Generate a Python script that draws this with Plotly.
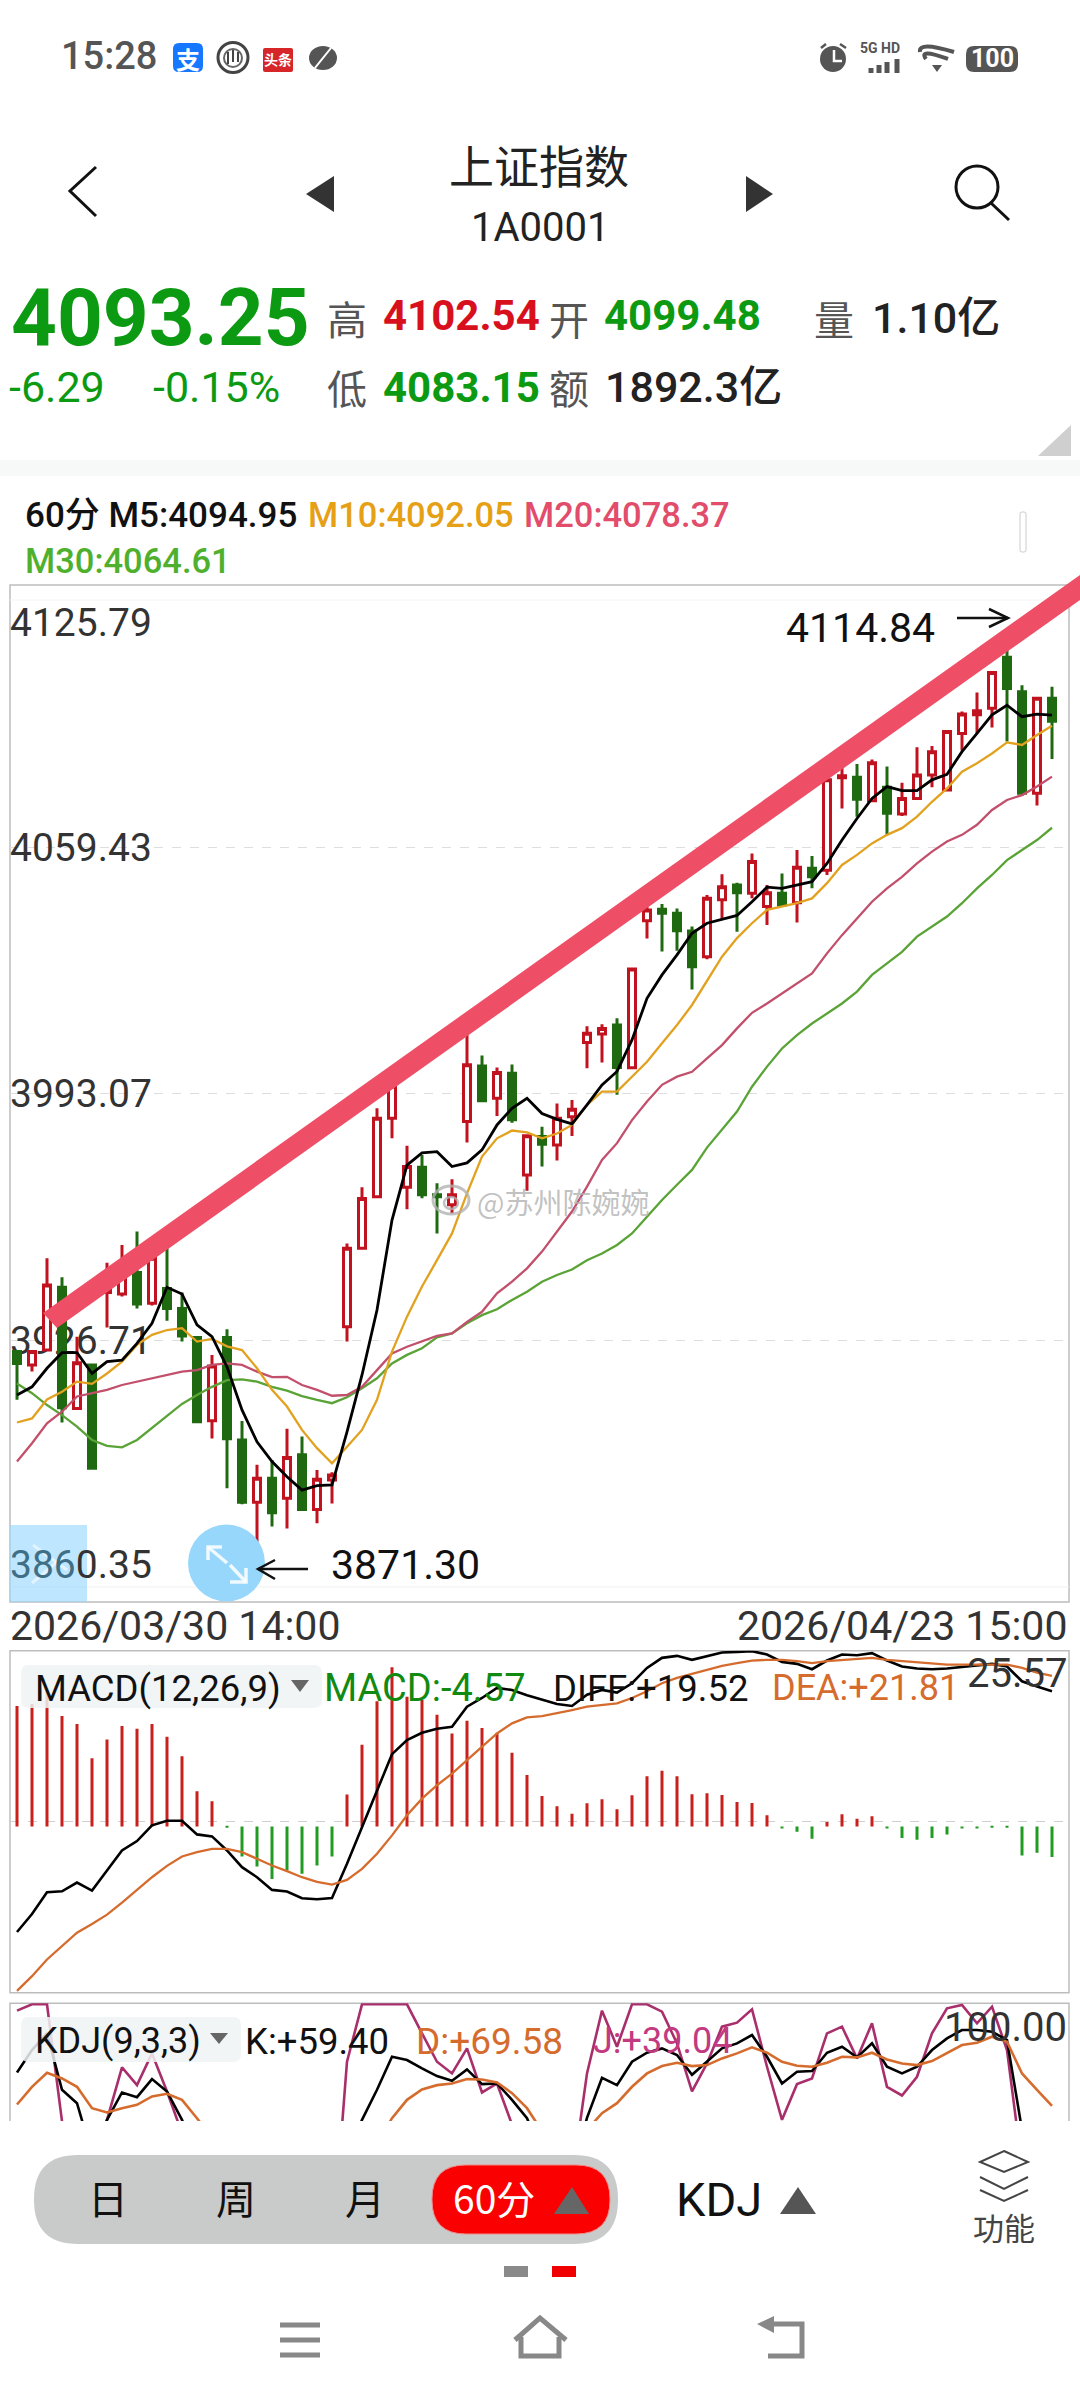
import plotly.graph_objects as go

W, H = 1080, 2400

# ---- 60-minute candles of 上证指数 ----
OPEN = [3923.6,3920.0,3924.0,3940.9,3908.3,3920.0,3939.5,3939.1,3944.9,3936.6,
        3940.6,3935.2,3927.4,3905.0,3927.4,3899.8,3883.0,3889.5,3884.1,3895.8,
        3881.1,3889.0,3930.3,3951.4,3965.3,3986.4,3967.8,3973.2,3965.8,3963.1,
        3985.5,4000.5,3991.8,3998.5,3971.1,3981.5,3979.2,3986.8,4006.8,4009.1,
        4011.5,4000.0,4039.6,4042.7,4041.6,4036.8,4029.9,4045.2,4049.2,4047.0,
        4043.4,4047.0,4044.4,4053.7,4053.2,4078.1,4078.2,4071.9,4075.5,4068.3,
        4072.5,4078.8,4074.8,4090.0,4095.0,4096.8,4110.5,4101.2,4073.9,4099.48]
HIGH = [3924.0,3924.0,3948.7,3943.6,3927.6,3920.0,3947.5,3952.3,3955.9,3950.0,
        3951.8,3939.5,3927.6,3922.7,3929.6,3904.9,3893.1,3894.4,3902.8,3900.7,
        3891.7,3891.1,3952.7,3967.8,3989.1,3995.4,3979.0,3976.5,3968.9,3970.0,
        4009.3,4003.3,4000.1,4000.9,3981.9,3984.1,3990.4,3991.3,4011.2,4011.7,
        4013.3,4026.8,4044.3,4044.1,4042.9,4038.0,4046.5,4052.1,4049.8,4057.7,
        4049.2,4052.3,4058.6,4057.0,4077.9,4081.5,4081.8,4083.0,4081.1,4076.7,
        4086.3,4086.6,4090.9,4095.9,4101.0,4106.6,4114.84,4103.0,4099.7,4102.54]
LOW = [3910.6,3918.2,3923.6,3904.5,3907.9,3892.2,3930.1,3938.4,3935.2,3936.0,
       3931.9,3926.3,3904.3,3900.2,3886.8,3882.5,3871.30,3876.5,3876.0,3880.8,
       3877.4,3882.7,3926.3,3951.4,3965.3,3981.0,3961.9,3964.9,3955.4,3960.8,
       3979.9,3990.9,3987.0,3985.2,3966.9,3973.4,3975.0,3981.6,3999.9,4001.4,
       3992.7,3999.9,4034.8,4031.3,4031.5,4021.1,4029.2,4040.2,4036.6,4045.6,
       4038.4,4043.4,4039.1,4048.3,4051.9,4069.8,4067.6,4071.6,4062.7,4067.8,
       4072.3,4075.5,4074.6,4085.4,4090.0,4091.6,4087.8,4073.2,4070.6,4083.15]
CLOSE = [3920.4,3923.6,3941.5,3908.5,3920.6,3892.2,3944.7,3946.5,3936.4,3948.7,
         3935.2,3927.8,3904.7,3919.7,3900.1,3883.0,3889.5,3880.2,3895.1,3881.1,
         3889.2,3890.4,3951.4,3964.8,3986.4,3995.1,3973.4,3965.8,3965.3,3965.8,
         4000.8,3991.1,3998.7,3986.0,3981.7,3979.4,3986.4,3988.8,4009.3,4010.6,
         4000.1,4026.6,4042.5,4041.6,4036.9,4027.2,4045.6,4048.7,4047.1,4055.5,
         4047.1,4043.8,4054.0,4051.4,4077.5,4078.6,4072.3,4082.1,4068.5,4072.5,
         4078.8,4085.1,4090.5,4095.2,4096.1,4106.4,4102.1,4073.9,4099.5,4093.25]

# ---- moving averages ----
M5 = [3911.9,3914.1,3919.1,3923.3,3923.3,3917.7,3920.9,3921.3,3925.8,3931.2,
      3940.9,3939.1,3930.8,3927.6,3919.5,3907.9,3899.3,3894.0,3889.9,3886.3,
      3887.5,3887.7,3902.0,3917.3,3934.8,3959.0,3973.8,3977.1,3977.4,3973.4,
      3974.4,3977.9,3984.6,3989.1,3991.8,3987.7,3986.1,3984.9,3990.0,3995.4,
      3999.0,4007.5,4018.7,4025.0,4030.4,4036.2,4038.9,4040.0,4041.0,4044.7,
      4048.6,4048.3,4049.2,4050.1,4055.0,4061.3,4067.1,4072.5,4075.7,4074.6,
      4074.6,4077.5,4079.0,4085.1,4090.0,4095.0,4097.6,4094.5,4095.2,4094.95]
M10 = [3904.5,3905.6,3910.7,3912.8,3915.5,3914.9,3917.7,3920.9,3925.4,3928.1,
       3929.4,3929.9,3926.3,3927.0,3925.0,3924.0,3919.1,3913.3,3908.8,3902.5,
       3897.6,3893.5,3898.0,3902.5,3910.6,3923.6,3933.0,3941.1,3948.2,3955.4,
       3966.2,3976.1,3981.0,3983.1,3982.6,3981.0,3982.3,3984.6,3990.0,3993.6,
       3993.6,3997.6,4001.6,4006.6,4011.5,4016.9,4023.4,4029.9,4034.9,4038.9,
       4042.5,4043.4,4044.3,4045.6,4049.7,4054.6,4057.3,4060.4,4062.7,4064.5,
       4067.6,4071.6,4075.2,4079.7,4082.0,4084.6,4087.6,4086.9,4089.6,4092.05]
M20 = [3894.0,3898.9,3904.3,3907.4,3911.5,3912.4,3913.3,3914.6,3915.5,3916.4,
       3917.3,3918.2,3918.6,3920.0,3920.4,3920.0,3918.2,3916.7,3916.8,3914.6,
       3913.3,3911.7,3911.9,3914.1,3918.6,3923.1,3924.9,3926.3,3927.8,3928.5,
       3931.6,3934.3,3939.3,3942.4,3946.0,3950.5,3955.9,3961.3,3968.0,3975.2,
       3979.7,3985.9,3990.9,3995.4,3997.6,3998.9,4002.5,4006.1,4010.6,4014.8,
       4017.3,4020.0,4022.7,4025.4,4030.8,4035.7,4040.2,4044.7,4048.3,4051.4,
       4055.0,4058.2,4060.9,4062.7,4065.4,4069.4,4072.1,4073.4,4075.7,4078.37]
M30 = [3915.0,3912.4,3909.2,3906.5,3903.4,3899.8,3898.2,3897.8,3899.8,3903.0,
       3906.1,3909.5,3911.9,3914.1,3915.9,3916.1,3915.5,3914.1,3913.1,3911.6,
       3910.6,3909.7,3911.3,3913.7,3916.4,3920.4,3922.7,3924.5,3927.4,3928.5,
       3931.2,3933.4,3935.0,3937.5,3939.7,3942.4,3944.2,3945.7,3948.2,3950.0,
       3952.3,3955.4,3959.9,3964.4,3968.5,3972.5,3978.5,3983.2,3988.2,3994.9,
       4000.3,4005.2,4008.8,4011.9,4014.6,4017.3,4020.5,4025.0,4028.1,4031.2,
       4035.3,4038.0,4040.7,4044.3,4048.3,4051.9,4055.9,4058.6,4061.3,4064.61]

# ---- MACD(12,26,9) ----
MACD_HIST = [18.0,18.3,20.4,16.5,15.3,10.2,13.0,15.0,14.6,15.3,
             13.4,10.5,5.25,3.75,-0.1,-4.5,-6.0,-7.85,-6.6,-7.1,
             -5.85,-4.5,4.75,12.2,18.7,23.8,19.4,18.9,16.7,13.9,
             15.8,14.7,14.0,11.0,7.7,4.55,3.0,1.9,3.45,4.05,
             2.55,4.65,7.5,8.3,7.5,4.8,4.95,4.7,3.65,3.5,
             1.65,-0.3,-0.8,-1.85,0.65,1.8,1.15,1.5,-0.3,-1.75,
             -2.0,-1.75,-1.2,-0.3,-0.3,-0.2,-0.1,-4.35,-3.95,-4.57]
DIFF = [-16.5,-13.8,-10.55,-10.4,-9.1,-10.3,-7.3,-4.3,-2.9,-0.55,
        0.15,0.15,-1.9,-2.2,-4.3,-6.8,-8.3,-10.2,-10.45,-11.45,
        -11.6,-11.4,-6.3,-0.8,4.7,10.1,12.2,13.3,13.9,14.2,
        17.2,18.5,20.0,19.7,18.9,18.2,17.6,17.3,19.0,19.7,
        19.3,20.7,23.0,24.5,24.8,24.2,24.8,25.3,25.4,25.5,
        25.0,23.9,23.6,22.8,24.1,25.0,24.9,25.2,24.1,23.2,
        22.9,22.8,22.9,23.1,23.4,23.6,23.2,21.0,20.2,19.52]
DEA = [-25.3,-23.1,-20.6,-18.6,-16.6,-15.3,-13.9,-12.1,-10.2,-8.3,
       -6.6,-5.2,-4.55,-4.05,-4.05,-4.55,-5.55,-6.55,-7.4,-8.3,
       -9.0,-9.4,-8.7,-7.05,-4.8,-2.05,0.95,3.45,5.45,7.2,
       9.2,11.2,13.2,14.7,15.6,15.8,16.2,16.7,17.2,17.5,
       17.7,18.5,19.5,20.7,21.5,22.1,22.7,23.3,23.7,24.1,
       24.2,24.2,24.0,23.7,24.0,24.2,24.4,24.5,24.2,24.0,
       23.8,23.6,23.5,23.5,23.5,23.6,23.5,23.0,22.3,21.81]

# ---- KDJ(9,3,3) ----
K = [79.6,86.3,91.3,74.4,70.4,55.0,65.4,73.6,72.2,77.6,
     73.9,65.4,55,48,40,32,28,25,27,30,
     36,45,55,65.4,74.4,84.3,83.3,80.8,78.5,77.1,
     80.5,76.1,76.3,71.4,65.9,55,48,50,66,78.0,
     75.8,82.8,85.5,86.8,84.8,78.9,82.8,86.8,88.3,90.8,
     84.3,76.3,79.8,80.0,85.5,87.3,84.1,88.3,81.3,79.3,
     81.3,86.3,89.8,92.3,92.3,91.8,89.3,62.4,60.5,59.40]
D = [70.0,75.3,79.5,77.8,75.3,68.9,67.6,68.9,69.9,72.4,
     73.2,71.4,65.9,59.4,53,47,42,38,36,35,
     36,38,42,50,58.5,65.9,71.4,74.5,75.8,76.3,
     77.6,77.5,76.6,73.4,68.9,62,57,56,62.4,67.4,
     70.4,75.3,79.3,81.5,82.5,81.5,81.8,83.8,85.3,87.1,
     85.5,82.8,81.6,81.3,82.5,84.3,84.1,85.5,83.5,82.3,
     81.8,83.0,85.3,87.8,88.5,90.3,88.8,79.3,74.4,69.58]
J = [98.1,100,100,65,45,40,65.4,81.1,75.8,85.3,
     73.9,61.4,30,20,10,8,5,5,10,15,
     20,25,82.8,100,100,100,100,91.3,82.8,79.3,
     86.8,73.6,76.3,64,40,25,15,47,79.3,98.1,
     87.3,100,100,97.8,88.3,73.9,82.3,93.3,94.5,98.5,
     81.3,65.4,76.1,77.8,91.3,93.3,83.8,94.3,75.3,72.7,
     78.3,91.3,98.8,99.8,94.3,99.3,86.3,51.4,45,39.04]

MAIN_TICKS = [4059.43, 3993.07, 3926.71]
MAIN_TICK_TEXT = ["4059.43", "3993.07", "3926.71"]
MAIN_TOP_LABEL, MAIN_BOTTOM_LABEL = 4125.79, 3860.35

RED, GREEN = "#c1121f", "#1f6a10"
C_M5, C_M10, C_M20, C_M30 = "#000000", "#e2a11f", "#c2506c", "#5aa336"
C_DEA, C_J = "#d56c2e", "#a92f6c"
UP_TXT, DN_TXT = "#d8101e", "#0c9a12"
SANS = "Roboto, 'Noto Sans CJK SC', sans-serif"
CJK = "'Noto Sans CJK SC', Roboto, sans-serif"
X = list(range(len(CLOSE)))

# Panel edges in page pixels
LEFT, RIGHT = 10, 1069
MAIN_T, MAIN_B = 585, 1602
MACD_T, MACD_B = 1650.7, 1992.7
KDJ_T, KDJ_B = 2003.3, 2121
SLOT, FIRST_X = 15, 17


def fx(x):
    return x / W


def fy(y):
    return 1 - y / H


def dom(t, b):
    return [fy(b), fy(t)]


def pts(*xy):
    s = ""
    for n, (x, y) in enumerate(xy):
        s += ("M" if n == 0 else "L") + f"{fx(x):.5f},{fy(y):.5f}"
    return s


shapes, notes = [], []


def path(d, line=None, fill=None, width=2, layer="above"):
    shapes.append(dict(type="path", path=d, xref="paper", yref="paper", layer=layer,
                       line=dict(color=line or "rgba(0,0,0,0)", width=width if line else 0),
                       fillcolor=fill or "rgba(0,0,0,0)"))


def poly(*xy, **kw):
    path(pts(*xy) + "Z", **kw)


def stroke(*xy, color="#000", width=2):
    path(pts(*xy), line=color, width=width)


def rect(x0, y0, x1, y1, fill, line=None, width=1, layer="above"):
    shapes.append(dict(type="rect", xref="paper", yref="paper", layer=layer,
                       x0=fx(x0), x1=fx(x1), y0=fy(y1), y1=fy(y0), fillcolor=fill,
                       line=dict(color=line or "rgba(0,0,0,0)", width=width if line else 0)))


def rrect(x0, y0, x1, y1, r, fill, line=None, width=1, layer="above"):
    f = lambda x, y: f"{fx(x):.5f},{fy(y):.5f}"
    d = (f"M{f(x0 + r, y0)}L{f(x1 - r, y0)}Q{f(x1, y0)} {f(x1, y0 + r)}"
         f"L{f(x1, y1 - r)}Q{f(x1, y1)} {f(x1 - r, y1)}"
         f"L{f(x0 + r, y1)}Q{f(x0, y1)} {f(x0, y1 - r)}"
         f"L{f(x0, y0 + r)}Q{f(x0, y0)} {f(x0 + r, y0)}Z")
    path(d, line=line, fill=fill, width=width, layer=layer)


def circle(cx, cy, rx, ry=None, fill=None, line=None, width=2):
    ry = ry or rx
    shapes.append(dict(type="circle", xref="paper", yref="paper", layer="above",
                       x0=fx(cx - rx), x1=fx(cx + rx), y0=fy(cy + ry), y1=fy(cy - ry),
                       fillcolor=fill or "rgba(0,0,0,0)",
                       line=dict(color=line or "rgba(0,0,0,0)", width=width if line else 0)))


def text(x, y, s, size, color="#222", anchor="left", font=SANS, bold=False, weight=None):
    f = dict(size=size, color=color, family=font)
    if weight:
        f["weight"] = weight
    notes.append(dict(x=fx(x), y=fy(y), xref="paper", yref="paper", text=f"<b>{s}</b>" if bold else s,
                      showarrow=False, xanchor=anchor, yanchor="middle", borderpad=0, font=f))


fig = go.Figure()

# Price panel
fig.add_trace(go.Candlestick(
    x=X, open=OPEN, high=HIGH, low=LOW, close=CLOSE, whiskerwidth=0,
    increasing=dict(line=dict(color=RED, width=3), fillcolor="#ffffff"),
    decreasing=dict(line=dict(color=GREEN, width=3), fillcolor=GREEN),
    xaxis="x", yaxis="y", showlegend=False))
for series, color, lw in ((M30, C_M30, 2.3), (M20, C_M20, 2.3), (M10, C_M10, 2.3), (M5, C_M5, 2.8)):
    fig.add_trace(go.Scatter(x=X, y=series, mode="lines", xaxis="x", yaxis="y",
                             line=dict(color=color, width=lw), showlegend=False))

# MACD panel: the histogram sits a few pixels under the zero line
HIST_BASE = -0.7
fig.add_trace(go.Bar(x=X, y=MACD_HIST, base=HIST_BASE, width=3 / SLOT, xaxis="x", yaxis="y2",
                     marker=dict(color=["#c8201c" if v > 0 else "#229b22" for v in MACD_HIST], line_width=0),
                     showlegend=False))
fig.add_trace(go.Scatter(x=X, y=DIFF, mode="lines", xaxis="x", yaxis="y2",
                         line=dict(color="#000", width=2.6), showlegend=False))
fig.add_trace(go.Scatter(x=X, y=DEA, mode="lines", xaxis="x", yaxis="y2",
                         line=dict(color=C_DEA, width=2.3), showlegend=False))

# KDJ panel, cut off by the toolbar underneath
for series, color in ((J, C_J), (K, "#000"), (D, C_DEA)):
    fig.add_trace(go.Scatter(x=X, y=series, mode="lines", xaxis="x", yaxis="y3",
                             line=dict(color=color, width=2.6), showlegend=False))

# Panel frames
FRAME = "#bdbdbd"
rect(LEFT, MAIN_T, RIGHT, MAIN_B, "rgba(0,0,0,0)", line=FRAME, width=1.5, layer="below")
rect(LEFT, MACD_T, RIGHT, MACD_B, "rgba(0,0,0,0)", line=FRAME, width=1.5, layer="below")
path(pts((LEFT, KDJ_B), (LEFT, KDJ_T), (RIGHT, KDJ_T), (RIGHT, KDJ_B)), line=FRAME, width=1.5, layer="below")
stroke((LEFT, 600), (RIGHT, 600), color="#f4f4f4", width=1)
stroke((LEFT, 1587), (RIGHT, 1587), color="#f1f1f1", width=1)

# Status bar
text(60, 56, "15:28", 38, "#555", weight=500)
rrect(173, 43, 203, 72, 6, "#1677ff")
text(188, 58, "支", 24, "#fff", "center", CJK, True)
circle(233, 57.5, 15, fill="#fff", line="#444", width=3)
circle(233, 58, 9, fill="#fff", line="#666", width=2)
stroke((228, 64), (228, 52), color="#444", width=2)
stroke((233, 62), (233, 50), color="#444", width=2)
stroke((238, 62), (238, 52), color="#444", width=2)
rrect(263, 48, 293, 72, 2, "#d6262a")
text(278, 59, "头条", 14, "#fff", "center", CJK, True)
circle(323, 58, 14, 12, fill="#555")
stroke((315, 68), (331, 48), color="#fff", width=2)
circle(833, 59, 13, fill="#555")
stroke((834, 50), (834, 61), (842, 61), color="#fff", width=2.5)
stroke((821, 48), (826, 44), color="#555", width=2.5)
stroke((840, 44), (846, 48), color="#555", width=2.5)
text(880, 48, "5G HD", 14, "#555", "center", SANS, True)
for bx, by in ((871, 68), (879, 65), (887, 62), (897, 59)):
    rect(bx - 2.5, by, bx + 2.5, 73, "#555")
path(pts((920, 52)) + "Q0.85000,0.98300 " + f"{fx(954):.5f},{fy(52):.5f}", line="#555", width=4)
path(pts((926, 59)) + "Q0.85000,0.98000 " + f"{fx(948):.5f},{fy(59):.5f}", line="#555", width=4)
poly((932, 65), (942, 65), (937, 72), fill="#555")
rrect(966, 46, 1018, 72, 8, "#555")
text(992, 59, "100", 25, "#fff", "center", SANS, True)

# Title row
stroke((96, 167), (70, 191), (96, 216), color="#111", width=3)
poly((334, 176), (334, 212), (306, 194), fill="#333")
poly((746, 176), (746, 212), (773, 194), fill="#333")
text(539, 165, "上证指数", 45, "#222", "center", CJK)
text(540, 228, "1A0001", 40, "#222", "center")
circle(977, 187, 21, line="#111", width=3)
stroke((991, 203), (1009, 220), color="#111", width=3)

# Quote block
text(10, 318, "4093.25", 80, DN_TXT, bold=True)
text(8, 387, "-6.29", 43, DN_TXT)
text(152, 387, "-0.15%", 43, DN_TXT)
text(347, 318, "高", 40, "#555", "center", CJK)
text(382, 316, "4102.54", 42, UP_TXT, bold=True)
text(569, 318, "开", 40, "#555", "center", CJK)
text(603, 316, "4099.48", 42, DN_TXT, bold=True)
text(834, 318, "量", 40, "#555", "center", CJK)
text(871, 318, "1.10亿", 43, "#222", weight=500)
text(347, 387, "低", 40, "#555", "center", CJK)
text(382, 387, "4083.15", 42, DN_TXT, bold=True)
text(569, 387, "额", 40, "#555", "center", CJK)
text(604, 387, "1892.3亿", 43, "#222", weight=500)
poly((1071, 425), (1071, 456), (1038, 456), fill="#cfcfcf")
rect(0, 460, W, 476, "#f7f8f8")

# Moving-average legend
text(24, 515, "60分 M5:4094.95", 35, "#111", weight=500)
text(307, 515, "M10:4092.05", 34.5, "#e6a015", weight=500)
text(523, 515, "M20:4078.37", 34.5, "#e24d6b", weight=500)
text(24, 561, "M30:4064.61", 34.5, "#4fb02e", weight=500)
rrect(1020, 512, 1026, 552, 2, "#fff", line="#cccccc")

# End labels of the price scale and the extreme-price callouts
text(9, 623, f"{MAIN_TOP_LABEL:.2f}", 39, "#333")
rect(10, 1525, 87, 1602, "rgba(150,215,255,0.62)")
stroke((33, 1545), (67, 1570), color="rgba(255,255,255,0.55)", width=3)
stroke((32, 1583), (63, 1557), color="rgba(255,255,255,0.55)", width=3)
label = f"{MAIN_BOTTOM_LABEL:.2f}"
text(9, 1565, f"<span style='color:#3f6f86'>{label[:3]}</span>{label[3:]}", 39, "#333")
circle(226.5, 1563, 38.5, fill="#96d7fb")
stroke((208, 1547), (227, 1563), color="rgba(255,255,255,0.85)", width=3.5)
stroke((222, 1547), (208, 1547), (208, 1560), color="rgba(255,255,255,0.85)", width=3.5)
stroke((230, 1565), (246, 1582), color="rgba(255,255,255,0.85)", width=3.5)
stroke((246, 1568), (246, 1582), (230, 1582), color="rgba(255,255,255,0.85)", width=3.5)
stroke((308, 1569), (258, 1569), color="#111", width=2.5)
stroke((275, 1560), (258, 1569), (275, 1579), color="#111", width=2.5)
text(330, 1565, "3871.30", 41, "#111")
text(785, 628, "4114.84", 41, "#111")
stroke((957, 618), (1008, 618), color="#111", width=2.5)
stroke((989, 609), (1008, 618), (989, 627), color="#111", width=2.5)

# Hand-drawn trend band over the price panel
poly((43, 1313), (1080, 575), (1080, 600), (57, 1328), fill="#ef4f66")

# Watermark
WM = "rgba(178,178,178,0.8)"
text(476, 1201, "@苏州陈婉婉", 29, WM, "left", CJK)
circle(451, 1200, 18, 14, line=WM, width=3)
circle(451, 1203, 7, 6, line=WM, width=2.5)

# Date row
text(9, 1626, "2026/03/30 14:00", 41, "#333")
text(1068, 1626, "2026/04/23 15:00", 41, "#333", "right")

# MACD header
rrect(21, 1665, 322, 1708, 8, "rgba(240,243,243,0.85)")
text(34, 1688, "MACD(12,26,9)", 36.5, "#111")
poly((291, 1680), (309, 1680), (300, 1692), fill="#666")
text(323, 1688, "MACD:-4.57", 38, "#118a11")
text(552, 1688, "DIFF:+19.52", 36.5, "#111")
text(771, 1688, "DEA:+21.81", 36, C_DEA)
text(1068, 1673, "25.57", 40, "#333", "right")

# KDJ header
rrect(21, 2017, 241, 2062, 8, "rgba(240,243,243,0.85)")
text(34, 2041, "KDJ(9,3,3)", 36, "#111")
poly((210, 2033), (228, 2033), (219, 2044), fill="#666")
text(244, 2041, "K:+59.40", 36.5, "#111")
text(415, 2041, "D:+69.58", 37, C_DEA)
text(592, 2041, "J:+39.04", 36, "#c23a80")
text(1068, 2027, "100.00", 40, "#333", "right")

# Period selector
rrect(34, 2155, 618, 2244, 44, "#c9caca")
rrect(432, 2165, 610, 2234, 34, "#fb0000", line="#f08a8a", width=1)
text(108, 2197, "日", 40, "#111", "center", CJK)
text(236, 2197, "周", 40, "#111", "center", CJK)
text(365, 2197, "月", 40, "#111", "center", CJK)
text(494, 2197, "60分", 39, "#fff", "center", CJK)
poly((572, 2187), (589, 2214), (554, 2214), fill="#666")
text(675, 2199, "KDJ", 47, "#111")
poly((798, 2187), (816, 2214), (780, 2214), fill="#555")

# Function button
poly((1004, 2151), (1028, 2162), (1004, 2172), (980, 2162), line="#444", width=2)
stroke((980, 2177), (1004, 2189), (1028, 2177), color="#444", width=2)
stroke((980, 2190), (1004, 2201), (1028, 2190), color="#444", width=2)
text(1004, 2226, "功能", 31, "#444", "center", CJK)

# Page dots and navigation bar
rect(504, 2266, 528, 2277, "#8a8a8a")
rect(552, 2266, 576, 2277, "#f00000")
NAV = "#888888"
for yy in (2325, 2340, 2355):
    stroke((280, yy), (320, yy), color=NAV, width=5)
stroke((515, 2340), (540, 2318), (566, 2340), color=NAV, width=5)
stroke((521, 2337), (521, 2356), (559, 2356), (559, 2337), color=NAV, width=5)
stroke((770, 2324), (802, 2324), (802, 2356), (768, 2356), color=NAV, width=5)
poly((757, 2324), (774, 2316), (774, 2333), fill=NAV)

fig.update_layout(
    width=W, height=H, autosize=False, margin=dict(l=0, r=0, t=0, b=0, pad=0),
    paper_bgcolor="#ffffff", plot_bgcolor="rgba(0,0,0,0)", showlegend=False,
    boxgap=0.3, boxgroupgap=0.333, barmode="overlay",
    shapes=shapes, annotations=notes,
    xaxis=dict(domain=[fx(LEFT), fx(RIGHT)],
               range=[(LEFT - FIRST_X) / SLOT, (RIGHT - FIRST_X) / SLOT],
               visible=False, rangeslider=dict(visible=False), anchor="y"),
    yaxis=dict(domain=dom(MAIN_T, MAIN_B), range=[3856.18, 4129.96], anchor="x",
               tickvals=MAIN_TICKS, ticktext=MAIN_TICK_TEXT, ticklabelposition="inside",
               ticklabelstandoff=-3,
               tickfont=dict(size=39, color="#333", family=SANS), layer="below traces",
               showgrid=True, gridcolor="#dedede", griddash="dash", gridwidth=1,
               zeroline=False, showline=False, ticks=""),
    yaxis2=dict(domain=dom(MACD_T, MACD_B), range=[-25.57, 25.57], anchor="x",
                tickvals=[0], showticklabels=False, showgrid=True, gridcolor="#cfcfcf",
                griddash="dash", gridwidth=1, zeroline=False, showline=False, ticks=""),
    yaxis3=dict(domain=dom(KDJ_T, KDJ_B), range=[65.06, 100.3], anchor="x",
                visible=False),
)

fig.write_html("out.html")
